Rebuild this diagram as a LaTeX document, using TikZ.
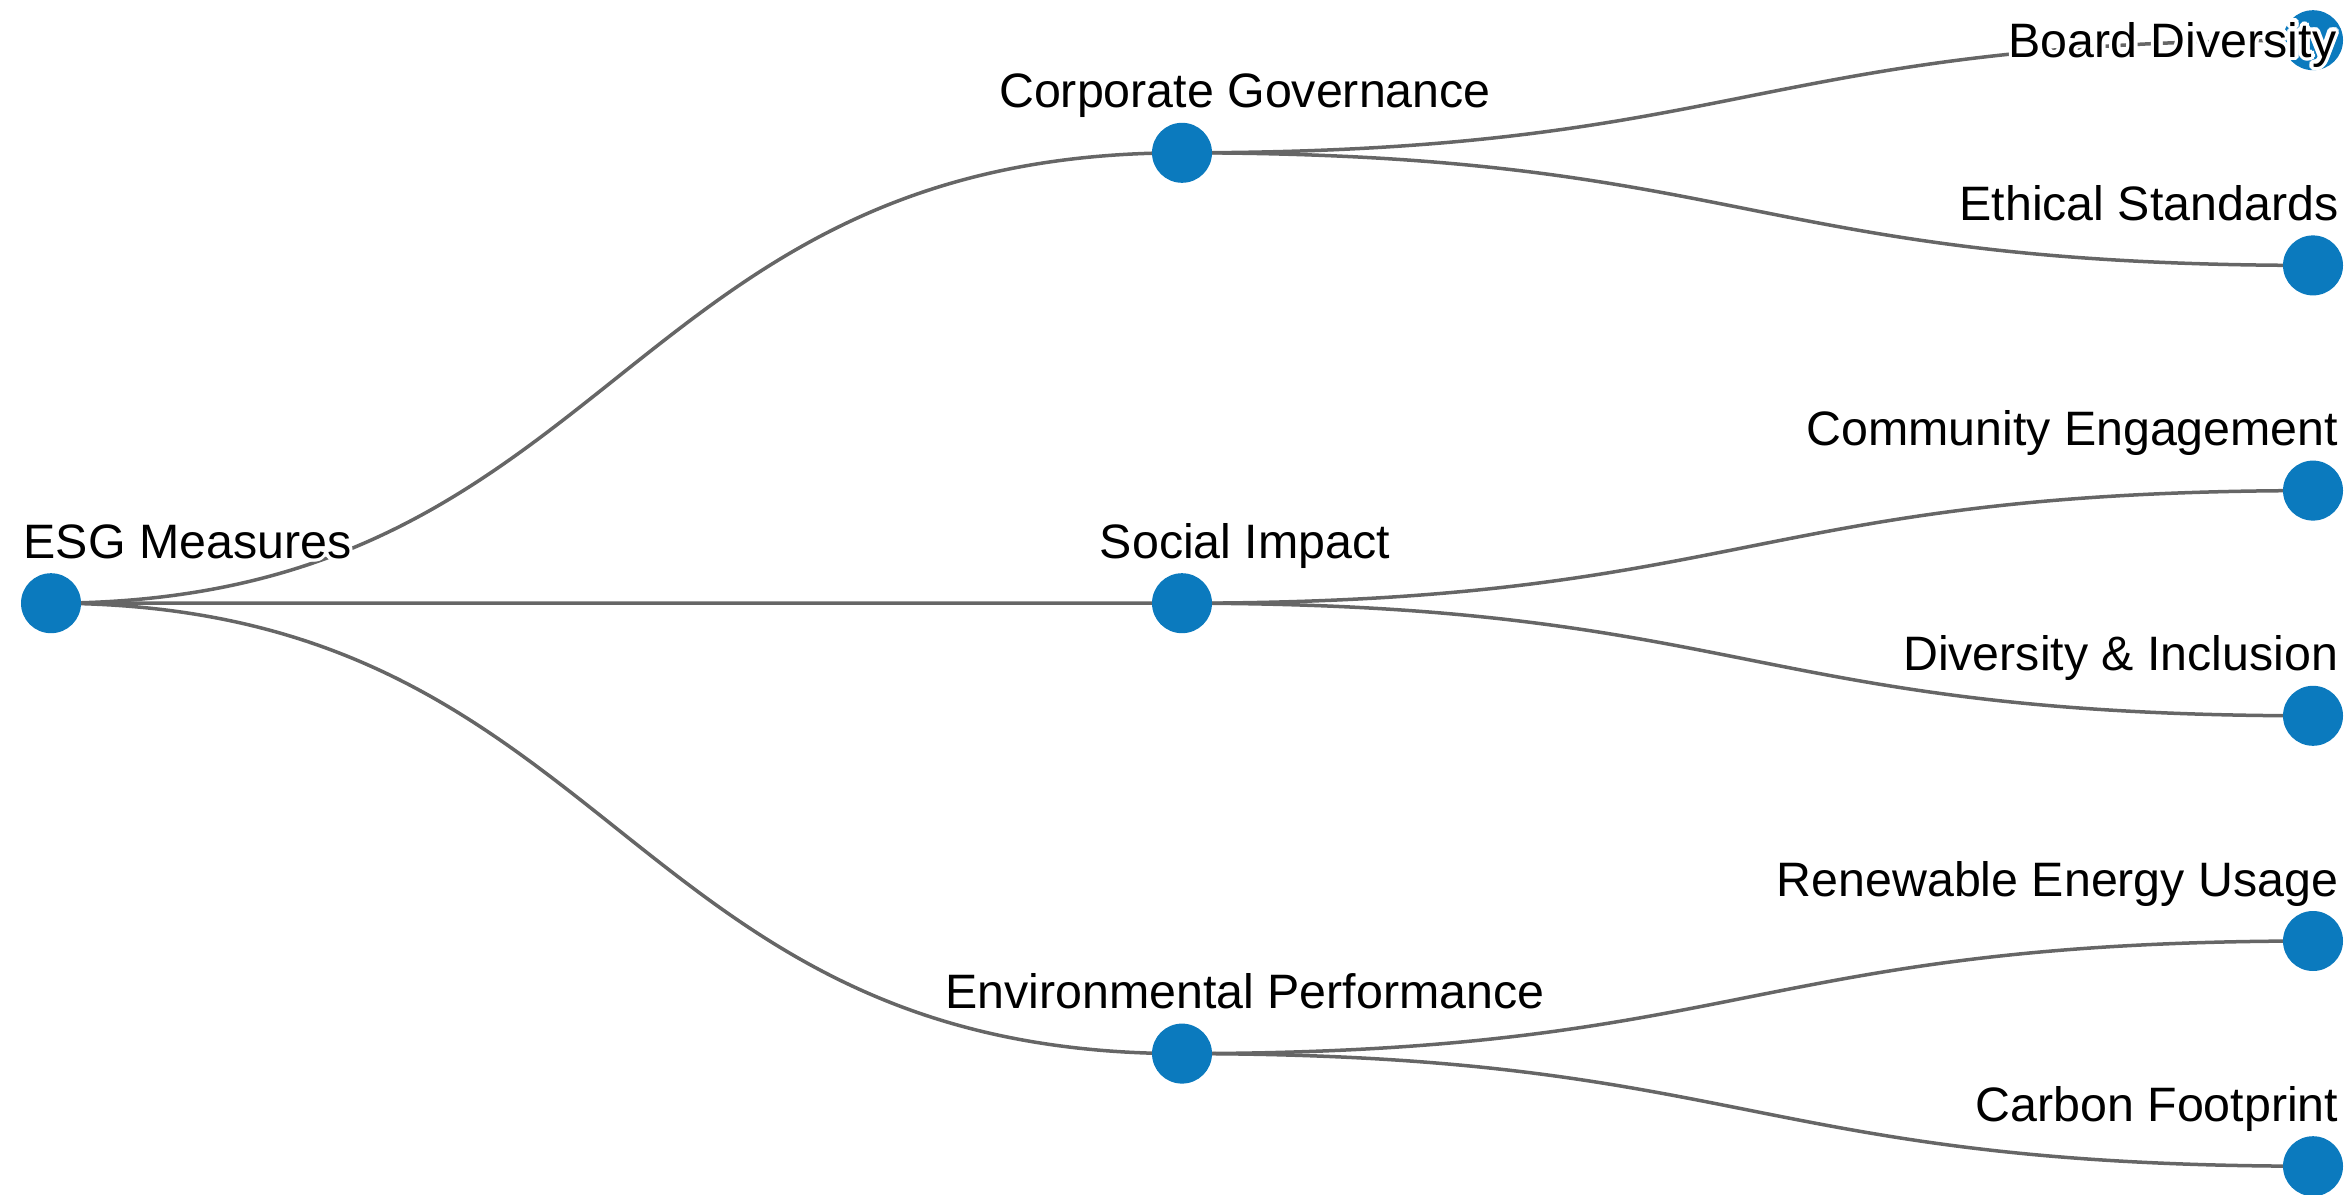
\documentclass[tikz,border=0pt]{standalone}
\usepackage{fontspec}
\setmainfont{Liberation Sans}
\usepackage{contour}
\contourlength{1pt}
\usetikzlibrary{trees,calc}

\definecolor{nodeBlue}{RGB}{11,122,190}
\definecolor{linkGray}{RGB}{102,102,102}

\begin{document}
\begin{tikzpicture}[grow'=right, level distance=11.31cm,
    every node/.style={line width=0.15mm},
    level 1/.style={sibling distance=4.504cm},
    level 2/.style={sibling distance=2.252cm},
    dotVertex/.style={
        circle, minimum size=0.6cm, inner sep=0pt
      },
    nameLabel/.style={
        font=\fontsize{13.75}{16}\selectfont, inner sep=0pt, text=black
      },
    edge from parent/.style={draw=linkGray, line width=0.035cm},
    edge from parent path={(\tikzparentnode.center) .. controls +(5.655,0) and +(-5.655,0) .. (\tikzchildnode.center)}
  ]
  \useasboundingbox (0,0) rectangle (23.52,-11.95);

  % ESG tree
  \node[dotVertex] (esg) at (0.51,-6.032) {}
  child {
      node[dotVertex] (cg) {}
      child {node[dotVertex] (bd) {}}
      child {node[dotVertex] (es) {}}
    }
  child {
      node[dotVertex] (si) {}
      child {node[dotVertex] (ce) {}}
      child {node[dotVertex] (di) {}}
    }
  child {
      node[dotVertex] (ep) {}
      child {node[dotVertex] (re) {}}
      child {node[dotVertex] (cf) {}}
    };

  % dots go over the link ends
  \foreach \v in {esg,cg,si,ep,bd,es,ce,di,re,cf}
    \fill[nodeBlue] (\v) circle (0.3cm);

  % Labels (white halo so the links pass behind them)
  \node[nameLabel, anchor=base west] (esgL) at ($(esg)+(-0.28,0.45)$) {\contour{white}{ESG Measures}};
  \node[nameLabel, anchor=base] (cgL) at ($(cg)+(0.63,0.45)$) {\contour{white}{Corporate Governance}};
  \node[nameLabel, anchor=base] (siL) at ($(si)+(0.63,0.45)$) {\contour{white}{Social Impact}};
  \node[nameLabel, anchor=base] (epL) at ($(ep)+(0.63,0.45)$) {\contour{white}{Environmental Performance}};
  \node[nameLabel, anchor=base east] (bdL) at ($(bd)+(0.24,-0.17)$) {\contour{white}{Board Diversity}};
  \node[nameLabel, anchor=base east] (esL) at ($(es)+(0.26,0.45)$) {\contour{white}{Ethical Standards}};
  \node[nameLabel, anchor=base east] (ceL) at ($(ce)+(0.26,0.45)$) {\contour{white}{Community Engagement}};
  \node[nameLabel, anchor=base east] (diL) at ($(di)+(0.26,0.45)$) {\contour{white}{Diversity \& Inclusion}};
  \node[nameLabel, anchor=base east] (reL) at ($(re)+(0.26,0.45)$) {\contour{white}{Renewable Energy Usage}};
  \node[nameLabel, anchor=base east] (cfL) at ($(cf)+(0.26,0.45)$) {\contour{white}{Carbon Footprint}};
\end{tikzpicture}
\end{document}
